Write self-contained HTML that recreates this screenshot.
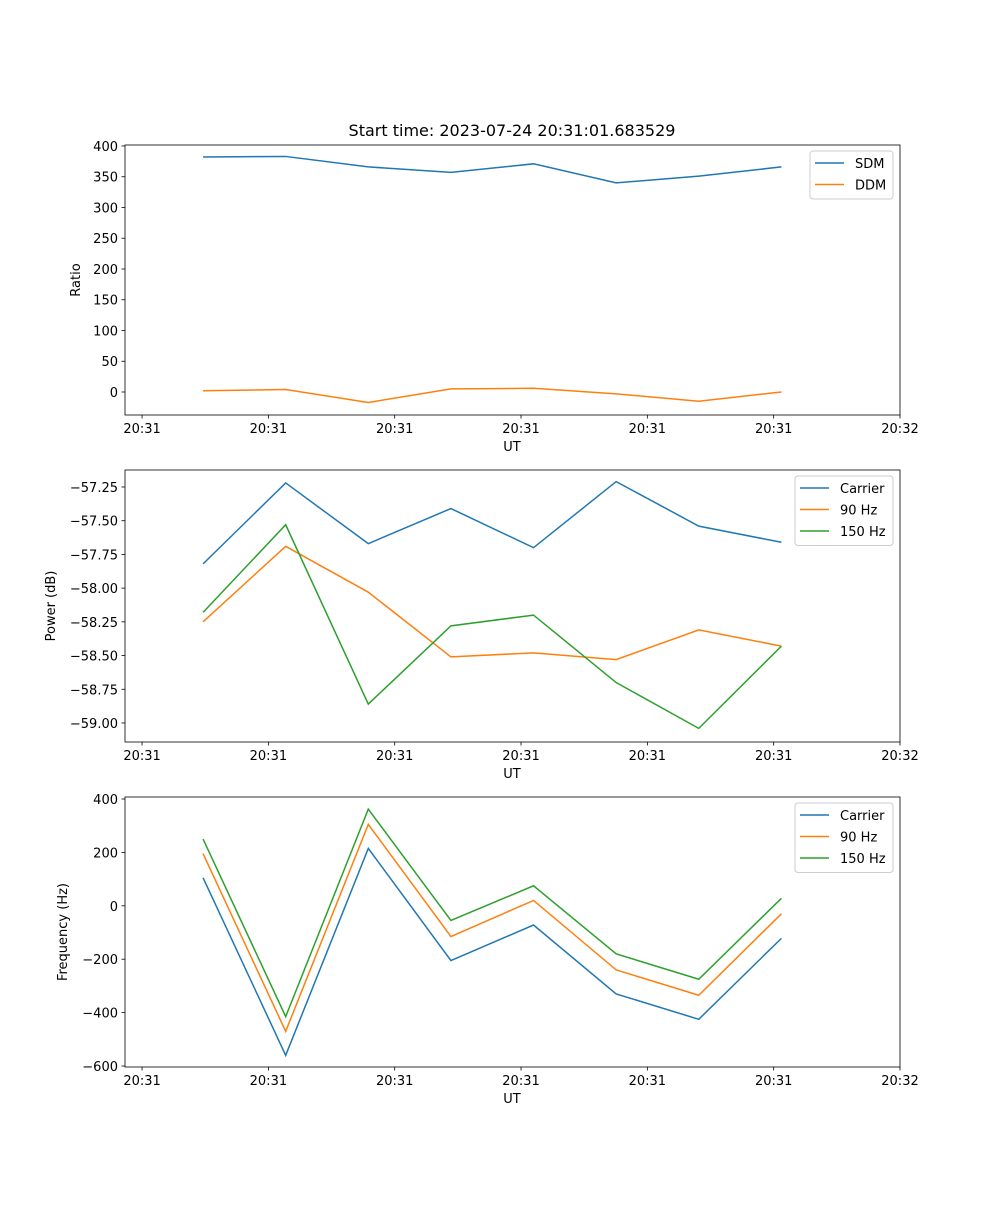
<!DOCTYPE html>
<html><head><meta charset="utf-8"><style>
body{margin:0;background:#fff}
svg text{font-family:"DejaVu Sans","Liberation Sans",sans-serif;fill:#000}
</style></head><body>
<svg id="fig" width="1000" height="1200" xmlns="http://www.w3.org/2000/svg">
<text x="512" y="136" font-size="16" text-anchor="middle">Start time: 2023-07-24 20:31:01.683529</text>
</svg>
<script>
const times = [4.83, 11.37, 17.91, 24.45, 30.99, 37.53, 44.07, 50.61];
const xTickVals = [0, 10, 20, 30, 40, 50, 60];
const xTickLabels = ["20:31","20:31","20:31","20:31","20:31","20:31","20:32"];
const sdm = [382, 383, 366, 357, 371, 340, 351, 366];
const ddm = [2, 4, -17, 5, 6, -3, -15, 0];
const powCarrier = [-57.82, -57.22, -57.67, -57.41, -57.70, -57.21, -57.54, -57.66];
const pow90 = [-58.25, -57.69, -58.03, -58.51, -58.48, -58.53, -58.31, -58.43];
const pow150 = [-58.18, -57.53, -58.86, -58.28, -58.20, -58.70, -59.04, -58.43];
const freqCarrier = [105, -560, 215, -205, -72, -330, -425, -122];
const freq90 = [195, -470, 305, -115, 20, -240, -335, -30];
const freq150 = [250, -415, 362, -55, 75, -180, -275, 28];
const ratioTicks = [0, 50, 100, 150, 200, 250, 300, 350, 400];
const powTicks = [-59.0, -58.75, -58.5, -58.25, -58.0, -57.75, -57.5, -57.25];
const freqTicks = [-600, -400, -200, 0, 200, 400];

const NS = "http://www.w3.org/2000/svg";
const svg = document.getElementById('fig');
function mk(tag, attrs, parent){const e=document.createElementNS(NS,tag);for(const k in attrs)e.setAttribute(k,attrs[k]);(parent||svg).appendChild(e);return e;}
const X0=125,X1=900,XMIN=-1.35,XMAX=60.0;
const xs=v=>X0+(v-XMIN)/(XMAX-XMIN)*(X1-X0);
const C=['#1f77b4','#ff7f0e','#2ca02c'];

function panel(name, top, bot, ymin, ymax, ticks, fmt, ylabel, ylabelX, series, names, legW){
  const g=mk('g',{});
  
  
  const ys=v=>bot-(v-ymin)/(ymax-ymin)*(bot-top);
  series.forEach((s,i)=>{
    const p=mk('polyline',{points:s.map((v,j)=>xs(times[j])+','+ys(v)).join(' '),fill:'none',stroke:C[i],'stroke-width':1.5},g);
    
    
  });
  mk('rect',{x:X0,y:top,width:X1-X0,height:bot-top,fill:'none',stroke:'#000','stroke-width':0.8},g);
  xTickVals.forEach((v,i)=>{
    const x=xs(v);
    mk('line',{x1:x,x2:x,y1:bot,y2:bot+3.5,stroke:'#000','stroke-width':0.8},g);
    const t=mk('text',{x:x,y:bot+18,'font-size':13,'text-anchor':'middle'},g);t.textContent=xTickLabels[i];
    
    
  });
  ticks.forEach(v=>{
    const y=ys(v);
    mk('line',{x1:X0,x2:X0-3.5,y1:y,y2:y,stroke:'#000','stroke-width':0.8},g);
    const t=mk('text',{x:X0-7,y:y+5,'font-size':13,'text-anchor':'end'},g);t.textContent=fmt(v);
    
    
  });
  const xl=mk('text',{x:512,y:bot+36,'font-size':13,'text-anchor':'middle'},g);xl.textContent='UT';
  
  
  const cy=(top+bot)/2;
  const yl=mk('text',{x:ylabelX,y:cy,'font-size':13,'text-anchor':'middle',transform:`rotate(-90 ${ylabelX} ${cy})`},g);yl.textContent=ylabel;
  
  
  const lx=X1-7-legW, ly=top+6, lh=names.length*21.5+5;
  const lg=mk('g',{},g);
  
  
  mk('rect',{x:lx,y:ly,width:legW,height:lh,rx:3,fill:'#fff','fill-opacity':0.8,stroke:'#ccc'},lg);
  names.forEach((n,i)=>{
    const yy=ly+12+i*21.5;
    mk('line',{x1:lx+5,x2:lx+34,y1:yy,y2:yy,stroke:C[i],'stroke-width':1.5},lg);
    const t=mk('text',{x:lx+45,y:yy+5,'font-size':13},lg);t.textContent=n;
    
    
  });
}
panel('ratio',145,415,-37.4,401.6,ratioTicks,v=>String(v),'Ratio',80,[sdm,ddm],['SDM','DDM'],83);
panel('power',470,742,-59.141,-57.124,powTicks,v=>(v<0?'\u2212':'')+Math.abs(v).toFixed(2),'Power (dB)',55,[powCarrier,pow90,pow150],['Carrier','90 Hz','150 Hz'],98);
panel('frequency',797,1067,-603.7,407.5,freqTicks,v=>(v<0?'\u2212':'')+Math.abs(v),'Frequency (Hz)',67,[freqCarrier,freq90,freq150],['Carrier','90 Hz','150 Hz'],98);
</script>
</body></html>
